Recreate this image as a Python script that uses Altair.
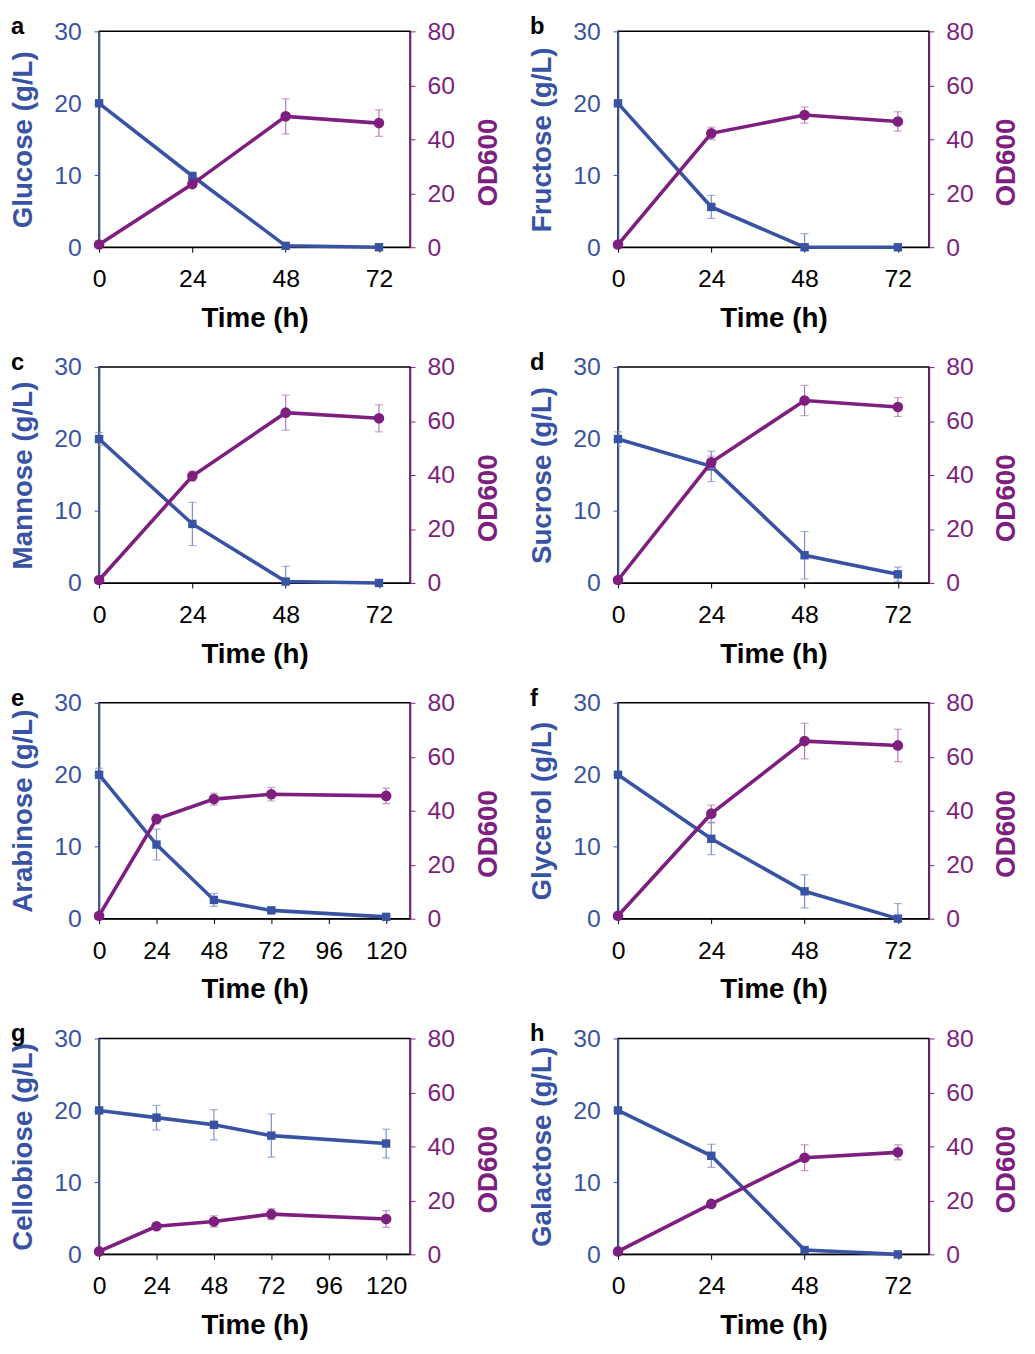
import altair as alt
import pandas as pd

BLUE = "#3953a4"
PURPLE = "#7e1f80"
FONT = "Liberation Sans"

letters = ["a", "b", "c", "d", "e", "f", "g", "h"]
sugars = ["Glucose", "Fructose", "Mannose", "Sucrose", "Arabinose", "Glycerol", "Cellobiose", "Galactose"]

times_72 = [0, 24, 48, 72]
times_120 = [0, 24, 48, 72, 120]
times = [times_72, times_72, times_72, times_72, times_120, times_72, times_120, times_72]

sugar_vals = [
    [20.0, 9.9, 0.2, 0.0],
    [20.0, 5.6, 0.0, 0.0],
    [20.0, 8.2, 0.2, 0.0],
    [20.0, 16.2, 3.85, 1.2],
    [20.0, 10.3, 2.6, 1.15, 0.25],
    [20.0, 11.1, 3.8, 0.0],
    [20.0, 19.0, 18.0, 16.5, 15.4],
    [20.0, 13.7, 0.6, 0.0],
]
sugar_err = [
    [0.3, 0.5, 0.2, 0.2],
    [0.3, 1.6, 1.9, 0.2],
    [0.9, 3.0, 2.1, 0.2],
    [1.0, 2.1, 3.3, 1.0],
    [0.9, 2.15, 0.9, 0.4, 0.3],
    [0.3, 2.2, 2.3, 2.1],
    [0.3, 1.7, 2.1, 3.0, 2.0],
    [0.3, 1.6, 0.3, 0.2],
]
od_vals = [
    [1.0, 23.4, 48.5, 46.0],
    [1.0, 42.2, 49.0, 46.6],
    [1.1, 39.6, 63.1, 61.0],
    [1.1, 44.7, 67.6, 65.2],
    [1.1, 36.9, 44.3, 46.1, 45.5],
    [1.1, 38.9, 65.8, 64.2],
    [1.1, 10.4, 12.2, 14.9, 13.1],
    [1.1, 18.7, 35.8, 37.8],
]
od_err = [
    [0.3, 0.8, 6.5, 4.9],
    [0.3, 2.3, 3.0, 3.6],
    [0.3, 1.8, 6.5, 5.0],
    [0.3, 2.3, 5.6, 3.5],
    [0.3, 1.8, 2.2, 2.5, 2.9],
    [0.3, 3.2, 6.6, 6.0],
    [0.3, 0.8, 2.1, 2.0, 3.1],
    [0.3, 1.0, 4.8, 2.8],
]
x_max_72 = 80
x_max_120 = 130
x_ticks_72 = [0, 24, 48, 72]
x_ticks_120 = [0, 24, 48, 72, 96, 120]

W, H = 314, 218
LFS = 25
TFS = 28


def panel(i):
    t = times[i]
    long_run = len(t) == 5
    df = pd.DataFrame({
        "t": t,
        "s": sugar_vals[i],
        "s_lo": [v - e for v, e in zip(sugar_vals[i], sugar_err[i])],
        "s_hi": [v + e for v, e in zip(sugar_vals[i], sugar_err[i])],
        "od": od_vals[i],
        "od_lo": [v - e for v, e in zip(od_vals[i], od_err[i])],
        "od_hi": [v + e for v, e in zip(od_vals[i], od_err[i])],
    })
    xs = alt.X("t:Q",
               scale=alt.Scale(domain=[0, x_max_120 if long_run else x_max_72], nice=False, zero=False),
               axis=alt.Axis(values=x_ticks_120 if long_run else x_ticks_72, title="Time (h)",
                             grid=False, domainColor="black", tickColor="black", tickSize=5,
                             labelColor="black", labelFontSize=LFS, labelFont=FONT, labelPadding=15,
                             titleFont=FONT, titleFontSize=TFS, titleFontWeight="bold",
                             titleColor="black", titlePadding=13, labelFlush=False))
    base = alt.Chart(df).encode(x=xs)

    s_scale = alt.Scale(domain=[0, 30], nice=False)
    s_axis = alt.Axis(values=[0, 10, 20, 30], title=f"{sugars[i]} (g/L)", orient="left",
                      grid=False, domainColor=BLUE, domainWidth=1.5, tickColor=BLUE, tickSize=5,
                      labelColor=BLUE, labelFontSize=LFS, labelFont=FONT, labelPadding=13,
                      titleColor=BLUE, titleFont=FONT, titleFontSize=TFS, titleFontWeight="bold",
                      titlePadding=16, labelFlush=False)
    od_scale = alt.Scale(domain=[0, 80], nice=False)
    od_axis = alt.Axis(values=[0, 20, 40, 60, 80], title="OD600", orient="right",
                       grid=False, domainColor=PURPLE, domainWidth=1.5, tickColor=PURPLE, tickSize=5,
                       labelColor=PURPLE, labelFontSize=LFS, labelFont=FONT, labelPadding=12,
                       titleColor=PURPLE, titleFont=FONT, titleFontSize=TFS, titleFontWeight="bold",
                       titlePadding=20, titleAngle=270, titleBaseline="top", titleY=132,
                       labelFlush=False)

    ys = alt.Y("s:Q", scale=s_scale, axis=s_axis)
    s_err = base.mark_rule(color="#7f8fc6", strokeWidth=1.2, clip=True).encode(
        y=alt.Y("s_lo:Q", scale=s_scale, axis=s_axis), y2="s_hi:Q")
    s_cap_lo = base.mark_tick(color="#7f8fc6", thickness=1.2, size=8, orient="horizontal", clip=True).encode(
        y=alt.Y("s_lo:Q", scale=s_scale, axis=s_axis))
    s_cap_hi = base.mark_tick(color="#7f8fc6", thickness=1.2, size=8, orient="horizontal").encode(
        y=alt.Y("s_hi:Q", scale=s_scale, axis=s_axis))
    s_line = base.mark_line(color=BLUE, strokeWidth=3.6).encode(y=ys)
    s_pts = base.mark_point(shape="square", filled=True, color=BLUE, size=72, opacity=1).encode(y=ys)
    left = alt.layer(s_err, s_cap_lo, s_cap_hi, s_line, s_pts)

    yo = alt.Y("od:Q", scale=od_scale, axis=od_axis)
    o_err = base.mark_rule(color="#b07ab2", strokeWidth=1.2, clip=True).encode(
        y=alt.Y("od_lo:Q", scale=od_scale, axis=od_axis), y2="od_hi:Q")
    o_cap_lo = base.mark_tick(color="#b07ab2", thickness=1.2, size=8, orient="horizontal", clip=True).encode(
        y=alt.Y("od_lo:Q", scale=od_scale, axis=od_axis))
    o_cap_hi = base.mark_tick(color="#b07ab2", thickness=1.2, size=8, orient="horizontal").encode(
        y=alt.Y("od_hi:Q", scale=od_scale, axis=od_axis))
    o_line = base.mark_line(color=PURPLE, strokeWidth=3.6).encode(y=yo)
    o_pts = base.mark_point(shape="circle", filled=True, color=PURPLE, size=115, opacity=1).encode(y=yo)
    right = alt.layer(o_err, o_cap_lo, o_cap_hi, o_line, o_pts)

    lbl = alt.Chart(pd.DataFrame({"l": [letters[i]]})).mark_text(
        font=FONT, fontSize=24, fontWeight="bold", color="black", align="left", baseline="alphabetic"
    ).encode(x=alt.value(-89), y=alt.value(3), text="l:N")

    return alt.layer(left, right, lbl).resolve_scale(y="independent").properties(width=W, height=H)


panels = [panel(i) for i in range(8)]
chart = alt.concat(*panels, columns=2, spacing=alt.RowColnumber(row=121, column=210), bounds="flush").properties(
    padding={"left": 1, "top": 0, "right": 5, "bottom": 5}
).configure_view(stroke="black", strokeWidth=1.5)

chart.save("out.html", embed_options={"renderer": "svg", "actions": False})
